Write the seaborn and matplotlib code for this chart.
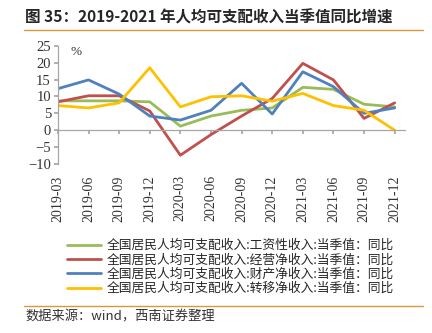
import matplotlib
matplotlib.use("Agg")
import matplotlib.pyplot as plt
import seaborn as sns
import pandas as pd
from matplotlib.lines import Line2D

quarters = ["2019-03", "2019-06", "2019-09", "2019-12", "2020-03", "2020-06",
            "2020-09", "2020-12", "2021-03", "2021-06", "2021-09", "2021-12"]
wage = [8.7, 8.7, 8.7, 8.4, 1.2, 4.2, 5.9, 6.6, 12.7, 12.1, 7.7, 6.9]
business = [8.4, 10.2, 10.2, 5.7, -7.4, -1.3, 4.2, 9.4, 19.8, 14.9, 3.5, 8.1]
property_ = [12.3, 14.9, 10.7, 4.2, 3.0, 5.9, 13.9, 4.8, 17.3, 12.9, 5.0, 6.6]
transfer = [7.3, 6.6, 8.1, 18.5, 6.9, 9.9, 10.2, 8.6, 10.9, 7.3, 5.9, 0.0]
names = ["全国居民人均可支配收入:工资性收入:当季值：同比",
         "全国居民人均可支配收入:经营净收入:当季值：同比",
         "全国居民人均可支配收入:财产净收入:当季值：同比",
         "全国居民人均可支配收入:转移净收入:当季值：同比"]
colors = ["#9BBB59", "#C0504D", "#4F81BD", "#FFC000"]

rows = []
for nm, vals in zip(names, [wage, business, property_, transfer]):
    for i, (q, v) in enumerate(zip(quarters, vals)):
        rows.append({"pos": i, "quarter": q, "series": nm, "value": v})
df = pd.DataFrame(rows)

sns.set_theme(style="white")
plt.rcParams["font.family"] = ["Noto Sans CJK SC", "DejaVu Sans"]
plt.rcParams["axes.unicode_minus"] = True

fig = plt.figure(figsize=(4.32, 3.33), dpi=100)
ax = fig.add_axes([0.134, 0.5075, 0.803, 0.355])

sns.lineplot(data=df, x="pos", y="value", hue="series", palette=colors,
             linewidth=2.0, ax=ax, legend=False, sort=False)

for s in ["top", "right"]:
    ax.spines[s].set_visible(False)
ax.spines["bottom"].set_position(("data", 0))
ax.spines["left"].set_color("#a6a6a6")
ax.spines["bottom"].set_color("#a6a6a6")
ax.spines["left"].set_linewidth(0.9)
ax.spines["bottom"].set_linewidth(0.9)

ax.set_xlim(0, 11.33)
ax.set_ylim(-10, 25)
ax.set_yticks(range(-10, 26, 5))
ax.set_xticks(range(len(quarters)))
ax.set_xticklabels(quarters, rotation=90, fontsize=10, family="Liberation Serif")
for lab in ax.get_yticklabels():
    lab.set_family("Liberation Serif")
    lab.set_fontsize(10.5)
ax.set_xlabel("")
ax.set_ylabel("")

ax.tick_params(axis="y", direction="out", length=3, color="#a6a6a6", pad=2,
               labelcolor="#333333", left=True)
ax.tick_params(axis="x", direction="out", length=3, color="#a6a6a6", pad=29.5,
               labelcolor="#333333", bottom=True)
ax.text(0.035, 1.0, "%", transform=ax.transAxes, fontsize=9.5, va="top",
        family="Liberation Serif", color="#333333")

handles = [Line2D([0], [0], color=c, lw=2.0) for c in colors]
fig.legend(handles, names, loc="upper center", bbox_to_anchor=(0.533, 0.297),
           ncol=1, frameon=False, fontsize=9.2, handlelength=2.7,
           handletextpad=0.4, labelspacing=0.1, borderaxespad=0)

fig.text(0.058, 0.948, "图 35：2019-2021 年人均可支配收入当季值同比增速",
         fontsize=11.2, fontweight="bold", va="center", ha="left")
fig.add_artist(Line2D([0.056, 0.979], [0.91, 0.91], color="#D9993A", lw=1.0,
                      transform=fig.transFigure))
fig.add_artist(Line2D([0.056, 0.979], [0.081, 0.081], color="#D9993A", lw=1.0,
                      transform=fig.transFigure))
fig.text(0.058, 0.047, "数据来源：wind，西南证券整理", fontsize=9.5,
         style="italic", va="center", ha="left", color="#333333")

fig.savefig("out.png", dpi=100)
